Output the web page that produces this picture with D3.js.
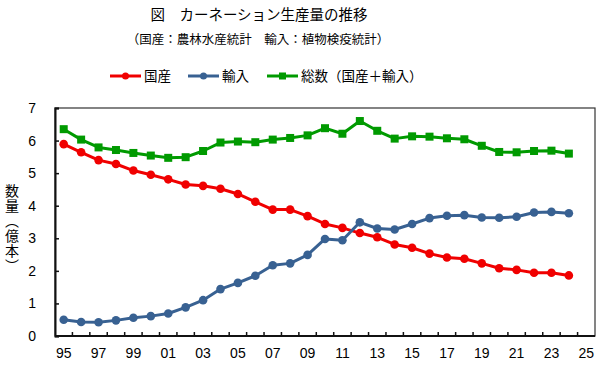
<!DOCTYPE html>
<html>
<head>
<meta charset="utf-8">
<script src="https://cdn.jsdelivr.net/npm/d3@7"></script>
<style>
  body { margin: 0; background: #fff; }
  text { font-family: "Liberation Sans", Arial, sans-serif; }
  .jp { font-family: "Noto Sans CJK JP", sans-serif; }
</style>
</head>
<body>
<script>
// years 1995..2025 (two-digit labels), data ends at 2024
const years = d3.range(1995, 2026).map(y => String(y % 100).padStart(2, '0'));
const domestic = [5.89, 5.64, 5.40, 5.28, 5.08, 4.95, 4.81, 4.65, 4.61, 4.52, 4.36, 4.12, 3.88, 3.88, 3.68,
                  3.44, 3.32, 3.16, 3.03, 2.81, 2.71, 2.53, 2.41, 2.37, 2.23, 2.08, 2.03, 1.94, 1.94, 1.86];
const imports = [0.50, 0.43, 0.42, 0.48, 0.56, 0.61, 0.69, 0.88, 1.10, 1.44, 1.63, 1.85, 2.17, 2.23, 2.49,
                 2.98, 2.94, 3.49, 3.30, 3.27, 3.44, 3.62, 3.69, 3.71, 3.64, 3.63, 3.66, 3.79, 3.81, 3.77];
const total = [6.35, 6.03, 5.79, 5.71, 5.62, 5.54, 5.47, 5.49, 5.68, 5.94, 5.97, 5.95, 6.03, 6.08, 6.16,
               6.38, 6.21, 6.60, 6.30, 6.06, 6.13, 6.12, 6.07, 6.04, 5.84, 5.65, 5.64, 5.68, 5.69, 5.60];
const yTicks = [0, 1, 2, 3, 4, 5, 6, 7];

const series = [
  { name: '国産', values: domestic, color: '#f00000', marker: 'circle' },
  { name: '輸入', values: imports, color: '#386192', marker: 'circle' },
  { name: '総数（国産＋輸入）', values: total, color: '#009a00', marker: 'square' }
];

const width = 600, height = 365;
const margin = { top: 108, right: 5, bottom: 29, left: 55 };

const svg = d3.select('body').append('svg')
  .attr('width', width)
  .attr('height', height);

const x = d3.scaleBand().domain(years).range([margin.left, width - margin.right]);
const y = d3.scaleLinear().domain([0, 7]).range([height - margin.bottom, margin.top]);
const cx = (i) => x(years[i]) + x.bandwidth() / 2;

// titles
svg.append('text').attr('class', 'jp')
  .attr('x', 259).attr('y', 20)
  .attr('text-anchor', 'middle')
  .style('font-size', '14.5px')
  .text('図　カーネーション生産量の推移');
svg.append('text').attr('class', 'jp')
  .attr('x', 258).attr('y', 44)
  .attr('text-anchor', 'middle')
  .style('font-size', '12.5px')
  .text('（国産：農林水産統計　輸入：植物検疫統計）');

// legend
const legendPos = [110, 188, 267];
const legend = svg.append('g');
series.forEach((s, i) => {
  const g = legend.append('g').attr('transform', `translate(${legendPos[i]}, 76)`);
  g.append('line').attr('x1', 0).attr('x2', 31).attr('stroke', s.color).attr('stroke-width', 3);
  if (s.marker === 'circle') {
    g.append('circle').attr('cx', 15.5).attr('r', 3.5).attr('fill', s.color);
  } else {
    g.append('rect').attr('x', 12).attr('y', -3.5).attr('width', 7).attr('height', 7).attr('fill', s.color);
  }
  g.append('text').attr('class', 'jp')
    .attr('x', 34).attr('y', 5)
    .style('font-size', '13.5px')
    .text(s.name);
});

// y axis label (vertical)
svg.append('text').attr('class', 'jp')
  .attr('x', 12).attr('y', 184)
  .style('font-size', '14px')
  .style('writing-mode', 'vertical-rl')
  .style('letter-spacing', '1px')
  .text('数量（億本）');

// plot frame (top/right)
svg.append('rect')
  .attr('x', margin.left).attr('y', margin.top)
  .attr('width', width - margin.right - margin.left)
  .attr('height', height - margin.bottom - margin.top)
  .attr('fill', 'none').attr('stroke', '#333').attr('stroke-width', 1.2);

// y axis
const yAxis = svg.append('g')
  .attr('transform', `translate(${margin.left},0)`)
  .call(d3.axisLeft(y).tickValues(yTicks).tickSize(-4).tickPadding(19).tickFormat(d3.format('d')));
yAxis.select('.domain').attr('stroke', '#111').attr('stroke-width', 2);
yAxis.selectAll('.tick line').attr('stroke', '#111').attr('stroke-width', 1.5);
yAxis.selectAll('text').style('font-size', '14px').attr('fill', '#000');

// x axis: ticks at band boundaries, labels every other year
const xg = svg.append('g').attr('transform', `translate(0,${height - margin.bottom})`);
xg.append('line')
  .attr('x1', margin.left).attr('x2', width - margin.right)
  .attr('stroke', '#111').attr('stroke-width', 2);
xg.selectAll('.tk').data(years.slice(1)).enter().append('line')
  .attr('x1', d => x(d)).attr('x2', d => x(d))
  .attr('y1', 0).attr('y2', -4)
  .attr('stroke', '#111').attr('stroke-width', 1.5);
xg.selectAll('.lbl').data(years.filter((d, i) => i % 2 === 0)).enter().append('text')
  .attr('x', d => x(d) + x.bandwidth() / 2)
  .attr('y', 22)
  .attr('text-anchor', 'middle')
  .style('font-size', '14px')
  .text(d => d);

// lines & markers
const line = d3.line().x((d, i) => cx(i)).y(d => y(d));
series.forEach(s => {
  const g = svg.append('g');
  g.append('path').attr('d', line(s.values))
    .attr('fill', 'none').attr('stroke', s.color).attr('stroke-width', 3)
    .attr('stroke-linejoin', 'round');
  if (s.marker === 'circle') {
    g.selectAll('circle').data(s.values).enter().append('circle')
      .attr('cx', (d, i) => cx(i)).attr('cy', d => y(d)).attr('r', 4.3)
      .attr('fill', s.color);
  } else {
    g.selectAll('rect').data(s.values).enter().append('rect')
      .attr('x', (d, i) => cx(i) - 4).attr('y', d => y(d) - 4)
      .attr('width', 8).attr('height', 8)
      .attr('fill', s.color);
  }
});
</script>
</body>
</html>
